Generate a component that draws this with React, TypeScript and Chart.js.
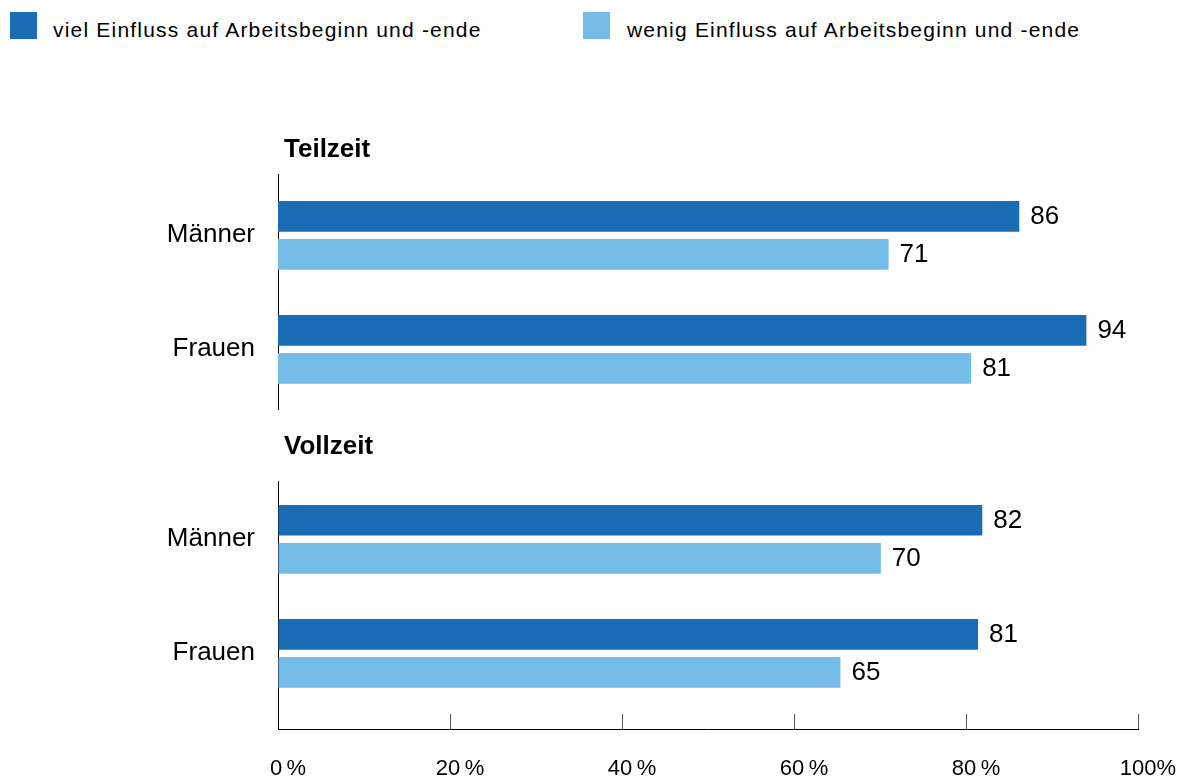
import React, { useEffect, useRef } from 'react';
import { Chart, registerables } from 'chart.js';

Chart.register(...registerables);

// ---- data ----
const groups = ['Männer', 'Frauen'];
const seriesNames = [
  'viel Einfluss auf Arbeitsbeginn und -ende',
  'wenig Einfluss auf Arbeitsbeginn und -ende',
];
const panelTitles = ['Teilzeit', 'Vollzeit'];
const teilzeitViel = [86.2, 94.0];
const teilzeitWenig = [71.0, 80.6];
const vollzeitViel = [81.9, 81.4];
const vollzeitWenig = [70.1, 65.4];
const xTicks = [0, 20, 40, 60, 80, 100];
const xTickLabels = ['0\u2009%', '20\u2009%', '40\u2009%', '60\u2009%', '80\u2009%', '100%'];
const seriesColors = ['#1a6db5', '#75bde8'];

const FONT = "'Liberation Sans', Arial, Helvetica, sans-serif";

const valueLabels = {
  id: 'valueLabels',
  afterDatasetsDraw(chart: any) {
    const ctx = chart.ctx;
    ctx.save();
    ctx.font = `26px ${FONT}`;
    ctx.fillStyle = '#000';
    ctx.textAlign = 'left';
    ctx.textBaseline = 'middle';
    chart.data.datasets.forEach((ds: any, di: number) => {
      const meta = chart.getDatasetMeta(di);
      meta.data.forEach((bar: any, i: number) => {
        const v = ds.data[i].x;
        ctx.fillText(String(Math.round(v)), bar.x + 11, bar.y + 1);
      });
    });
    ctx.restore();
  },
};

const panelTitle = {
  id: 'panelTitle',
  afterDraw(chart: any, _args: any, opts: any) {
    if (!opts || !opts.text) return;
    const { ctx, chartArea } = chart;
    ctx.save();
    ctx.font = `bold 26px ${FONT}`;
    ctx.fillStyle = '#000';
    ctx.textAlign = 'left';
    ctx.textBaseline = 'alphabetic';
    ctx.fillText(opts.text, chartArea.left + 6, chartArea.top - opts.dy);
    ctx.restore();
  },
};

function makeConfig(viel: number[], wenig: number[], title: string, bottom: boolean, yMin: number, yMax: number, padTop: number, padBottom: number, titleDy: number): any {
  return {
    type: 'bar',
    data: {
      datasets: [
        {
          label: seriesNames[0],
          data: viel.map((v, i) => ({ x: v, y: i })),
          backgroundColor: seriesColors[0],
          borderWidth: 0,
          categoryPercentage: 0.6667,
          barPercentage: 0.808,
        },
        {
          label: seriesNames[1],
          data: wenig.map((v, i) => ({ x: v, y: i })),
          backgroundColor: seriesColors[1],
          borderWidth: 0,
          categoryPercentage: 0.6667,
          barPercentage: 0.808,
        },
      ],
    },
    options: {
      indexAxis: 'y',
      responsive: false,
      animation: false,
      devicePixelRatio: 1,
      layout: { padding: { top: padTop, bottom: padBottom, left: 0, right: 48 } },
      plugins: {
        legend: { display: false },
        tooltip: { enabled: false },
        panelTitle: { text: title, dy: titleDy },
      },
      scales: {
        y: {
          type: 'linear',
          reverse: true,
          min: yMin,
          max: yMax,
          offset: false,
          afterBuildTicks: (s: any) => {
            s.ticks = groups.map((_, i) => ({ value: i }));
          },
          afterFit: (s: any) => {
            s.width = 278;
            s.paddingTop = 0;
            s.paddingBottom = 0;
            s.paddingLeft = 0;
            s.paddingRight = 0;
          },
          ticks: {
            callback: (v: any) => groups[v],
            font: { family: FONT, size: 26 },
            color: '#000',
            padding: 23,
          },
          grid: { display: false, drawTicks: false },
          border: { display: true, color: '#000', width: 1 },
        },
        x: bottom
          ? {
              type: 'linear',
              min: 0,
              max: 100,
              afterBuildTicks: (s: any) => {
                s.ticks = xTicks.map((v) => ({ value: v }));
              },
              afterFit: (s: any) => {
                s.height = 49;
                s.paddingTop = 0;
                s.paddingBottom = 0;
                s.paddingLeft = 0;
                s.paddingRight = 0;
              },
              ticks: {
                callback: (v: any) => xTickLabels[xTicks.indexOf(v)],
                font: { family: FONT, size: 22 },
                color: '#000',
                padding: 42,
                labelOffset: 10,
                maxRotation: 0,
                autoSkip: false,
              },
              grid: {
                drawOnChartArea: false,
                drawTicks: true,
                tickLength: -15,
                tickColor: '#555',
                tickWidth: 1,
              },
              border: { display: true, color: '#000', width: 1 },
            }
          : { type: 'linear', min: 0, max: 100, display: false },
      },
    },
    plugins: [valueLabels, panelTitle],
  };
}

export default function App() {
  const refA = useRef<HTMLCanvasElement | null>(null);
  const refB = useRef<HTMLCanvasElement | null>(null);

  useEffect(() => {
    Chart.defaults.font.family = FONT;
    const a = new Chart(refA.current as HTMLCanvasElement, makeConfig(teilzeitViel, teilzeitWenig, panelTitles[0], false, -0.538, 1.524, 74, 21, 17.3));
    const b = new Chart(refB.current as HTMLCanvasElement, makeConfig(vollzeitViel, vollzeitWenig, panelTitles[1], true, -0.511, 1.664, 51, 0, 26.7));
    return () => {
      a.destroy();
      b.destroy();
    };
  }, []);

  const legendText: React.CSSProperties = {
    position: 'absolute',
    top: 18,
    fontFamily: FONT,
    fontSize: 21,
    letterSpacing: '1.2px',
    color: '#000',
    whiteSpace: 'nowrap',
  };
  const box: React.CSSProperties = { position: 'absolute', top: 12, width: 27, height: 27 };

  return (
    <div style={{ position: 'fixed', left: 0, top: 0, width: 1186, height: 778, overflow: 'hidden', background: '#fff' }}>
      <div style={{ ...box, left: 10, background: seriesColors[0] }} />
      <div style={{ ...legendText, left: 53 }}>{seriesNames[0]}</div>
      <div style={{ ...box, left: 583, background: seriesColors[1] }} />
      <div style={{ ...legendText, left: 627 }}>{seriesNames[1]}</div>
      <canvas ref={refA} width={1186} height={330} style={{ position: 'absolute', left: 0, top: 100 }} />
      <canvas ref={refB} width={1186} height={348} style={{ position: 'absolute', left: 0, top: 430 }} />
    </div>
  );
}
